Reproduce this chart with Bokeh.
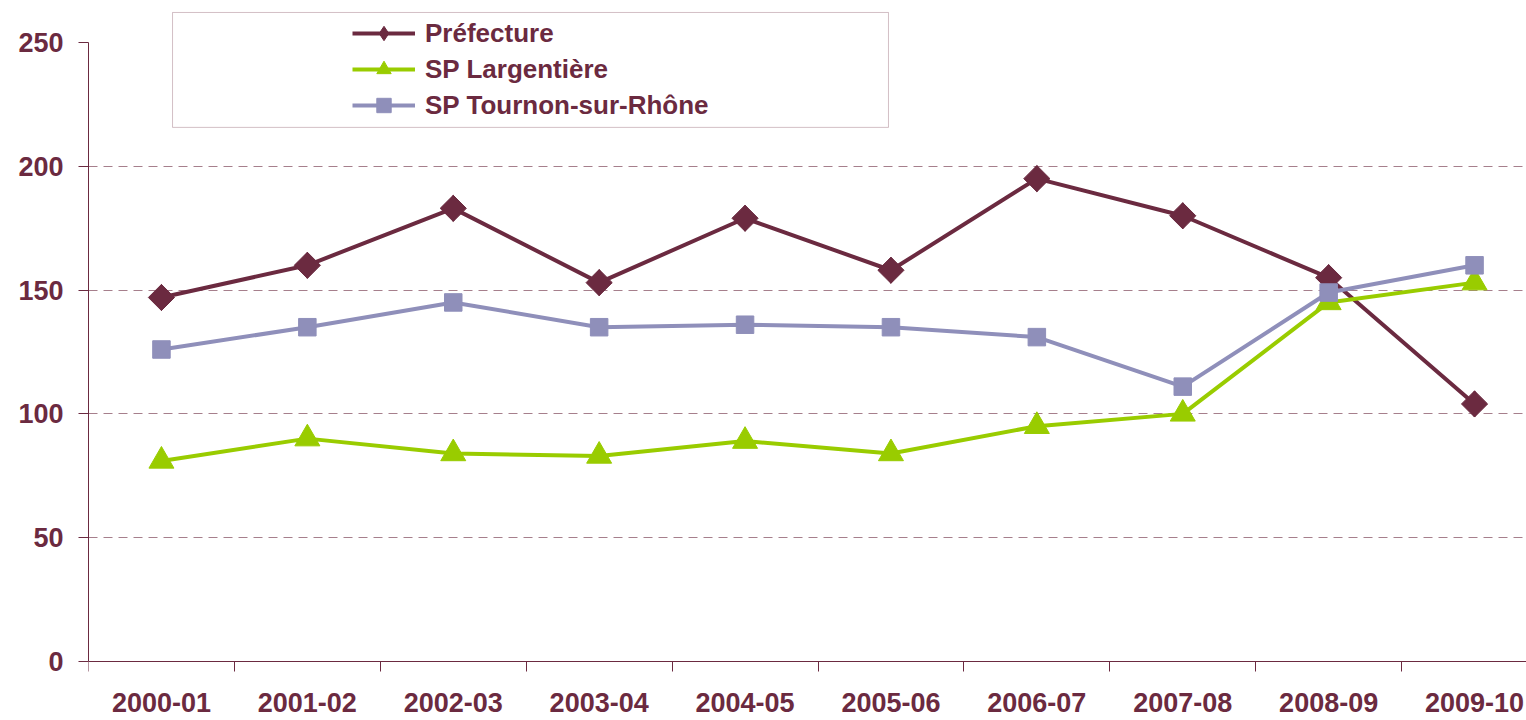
import math
from bokeh.plotting import figure
from bokeh.models import FixedTicker, BoxAnnotation, Legend, LegendItem, Range1d
from bokeh.embed import file_html
from bokeh.resources import INLINE

categories = ["2000-01", "2001-02", "2002-03", "2003-04", "2004-05",
              "2005-06", "2006-07", "2007-08", "2008-09", "2009-10"]
prefecture = [147, 160, 183, 153, 179, 158, 195, 180, 155, 104]
largentiere = [81, 90, 84, 83, 89, 84, 95, 100, 145, 153]
tournon = [126, 135, 145, 135, 136, 135, 131, 111, 149, 160]
y_ticks = [0, 50, 100, 150, 200, 250]
grid_ticks = [50, 100, 150, 200]

MAROON = "#6B2A40"
GREEN = "#99CC00"
LAVENDER = "#8F8FBA"
FONT = "Liberation Sans"

xs = [i + 0.5 for i in range(len(categories))]
bounds = [float(i) for i in range(len(categories))]

# frame spans below zero so the category labels (drawn by an axis fixed at y=0) stay inside it
p = figure(width=1526, height=720, x_range=Range1d(0, 9.856), y_range=Range1d(-23.83, 262.9),
           output_backend="svg", toolbar_location=None,
           min_border_left=88, min_border_right=0, min_border_top=10, min_border_bottom=0)
p.outline_line_color = None
p.background_fill_color = "white"
p.border_fill_color = "white"

p.xgrid.visible = False
p.ygrid.ticker = FixedTicker(ticks=grid_ticks)
p.ygrid.grid_line_color = MAROON
p.ygrid.grid_line_alpha = 0.6
p.ygrid.grid_line_dash = "9 6"
p.ygrid.grid_line_width = 1

ya = p.yaxis[0]
ya.ticker = FixedTicker(ticks=y_ticks)
ya.bounds = (0, 250)
ya.axis_line_color = MAROON
ya.major_tick_line_color = MAROON
ya.major_tick_out = 10
ya.major_tick_in = 0
ya.minor_tick_line_color = None
ya.major_label_standoff = 15
ya.major_label_text_font = FONT
ya.major_label_text_font_style = "bold"
ya.major_label_text_font_size = "27px"
ya.major_label_text_color = MAROON

xa = p.xaxis[0]
xa.fixed_location = 0
xa.ticker = FixedTicker(ticks=xs, minor_ticks=bounds)
xa.major_label_overrides = {x: c for x, c in zip(xs, categories)}
xa.axis_line_color = MAROON
xa.major_tick_line_color = None
xa.minor_tick_line_color = MAROON
xa.minor_tick_out = 10
xa.minor_tick_in = 0
xa.major_label_standoff = 22
xa.major_label_text_font = FONT
xa.major_label_text_font_style = "bold"
xa.major_label_text_font_size = "27px"
xa.major_label_text_color = MAROON

r1 = p.line(xs, prefecture, line_color=MAROON, line_width=4)
d1 = p.scatter(xs, prefecture, marker="diamond", size=26,
               fill_color=MAROON, line_color=MAROON)
s1 = p.scatter(xs, prefecture, marker="square", angle=math.pi / 4, size=18.5,
               fill_color=MAROON, line_color=MAROON)
r2 = p.line(xs, largentiere, line_color=GREEN, line_width=4)
s2 = p.scatter(xs, largentiere, marker="triangle", size=25,
               fill_color=GREEN, line_color=GREEN)
r3 = p.line(xs, tournon, line_color=LAVENDER, line_width=4)
s3 = p.scatter(xs, tournon, marker="square", size=17.5,
               fill_color=LAVENDER, line_color=LAVENDER)

box = BoxAnnotation(left=0.576, right=5.483, top=262.1, bottom=215.7,
                    fill_alpha=0, line_color=MAROON, line_width=1)
p.add_layout(box)

# frame bottom is at the canvas bottom (y=0 lies 59 px above it)
legend = Legend(items=[
    LegendItem(label="Préfecture", renderers=[r1, d1]),
    LegendItem(label="SP Largentière", renderers=[r2, s2]),
    LegendItem(label="SP Tournon-sur-Rhône", renderers=[r3, s3]),
], location=(264, 597), orientation="vertical",
    glyph_width=63, glyph_height=36, label_height=36, spacing=0,
    padding=0, margin=0, label_standoff=10,
    border_line_color=None, background_fill_alpha=0,
    label_text_font=FONT, label_text_font_style="bold",
    label_text_font_size="26px", label_text_color=MAROON)
p.add_layout(legend)

open("out.html", "w").write(file_html(p, INLINE))
